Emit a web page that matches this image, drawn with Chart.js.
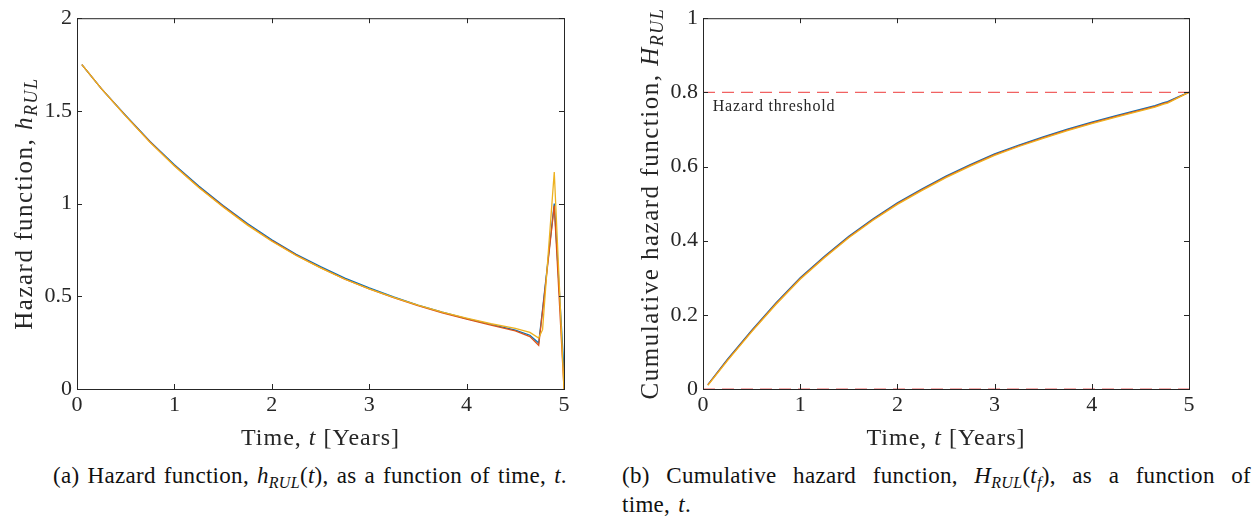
<!DOCTYPE html>
<html lang="en">
<head>
<meta charset="utf-8" />
<title>Hazard function and cumulative hazard function</title>
<script src="https://cdnjs.cloudflare.com/ajax/libs/Chart.js/4.4.0/chart.umd.js"></script>
<style>
    body { margin: 0; background: #fff; width: 1259px; height: 518px; position: relative; overflow: hidden; }
    .panel { position: absolute; top: 0; }
    .cap { position: absolute; font-family: "Liberation Serif", serif; font-size: 23px; color: #111; line-height: 29px; letter-spacing: 0.3px; word-spacing: 2px; white-space: nowrap; }
    .cap i { font-style: italic; }
    .cap sub { font-size: 16px; vertical-align: -5px; line-height: 0; }
</style>
</head>
<body>
<div class="panel" style="left:0"><canvas id="left" width="620" height="450"></canvas></div>
<div class="panel" style="left:620px"><canvas id="right" width="639" height="450"></canvas></div>
<div class="cap" style="left:0; top:461px; width:620px; text-align:center">(a) Hazard function, <i>h</i><sub><i>RUL</i></sub>(<i>t</i>), as a function of time, <i>t</i>.</div>
<div class="cap" style="left:622px; top:461px; width:629px; text-align:justify; text-align-last:justify; white-space:normal">(b) Cumulative hazard function, <i>H</i><sub><i>RUL</i></sub>(<i>t<sub>f</sub></i>), as a function of</div>
<div class="cap" style="left:622px; top:490px">time, <i>t</i>.</div>
<script>
    // time grid [years]
    const time = [0.05, 0.25, 0.5, 0.75, 1, 1.25, 1.5, 1.75, 2, 2.25, 2.5, 2.75, 3, 3.25, 3.5, 3.75, 4, 4.25, 4.5, 4.65, 4.74, 4.78, 4.9, 5];

    // hazard function h_RUL(t), three runs
    const hazardBlue = [1.75, 1.62, 1.475, 1.335, 1.21, 1.095, 0.99, 0.893, 0.805, 0.727, 0.66, 0.598, 0.545, 0.497, 0.453, 0.414, 0.38, 0.348, 0.318, 0.29, 0.248, 0.43, 1.0, 0.1];
    const hazardRed = [1.75, 1.62, 1.473, 1.332, 1.205, 1.09, 0.985, 0.887, 0.8, 0.722, 0.655, 0.593, 0.54, 0.493, 0.45, 0.411, 0.377, 0.345, 0.313, 0.283, 0.236, 0.42, 0.99, 0];
    const hazardYellow = [1.75, 1.62, 1.472, 1.33, 1.203, 1.087, 0.982, 0.884, 0.797, 0.72, 0.653, 0.592, 0.54, 0.494, 0.452, 0.415, 0.382, 0.352, 0.327, 0.305, 0.275, 0.32, 1.17, 0];

    // cumulative hazard H_RUL(t_f), three runs
    const cumBlue = [0.012, 0.08, 0.158, 0.232, 0.3, 0.358, 0.412, 0.459, 0.502, 0.539, 0.574, 0.605, 0.634, 0.658, 0.68, 0.701, 0.72, 0.737, 0.754, 0.764, 0.772, 0.775, 0.789, 0.8];
    const cumRed = [0.011, 0.078, 0.156, 0.23, 0.298, 0.356, 0.41, 0.457, 0.5, 0.537, 0.572, 0.603, 0.632, 0.656, 0.678, 0.699, 0.718, 0.735, 0.752, 0.762, 0.77, 0.773, 0.788, 0.8];
    const cumYellow = [0.01, 0.076, 0.154, 0.228, 0.296, 0.354, 0.408, 0.455, 0.498, 0.535, 0.57, 0.601, 0.63, 0.654, 0.676, 0.697, 0.716, 0.733, 0.75, 0.76, 0.768, 0.771, 0.787, 0.8];

    const hazardThreshold = 0.8;
    const thresholdLabel = 'Hazard threshold';
    const xTicks = [0, 1, 2, 3, 4, 5];
    const leftYTicks = [0, 0.5, 1, 1.5, 2];
    const rightYTicks = [0, 0.2, 0.4, 0.6, 0.8, 1];

    const BLUE = '#0072BD', RED = '#D95319', YELLOW = '#EDB120', AXIS = '#262626';
    const SERIF = '"Liberation Serif", serif';

    const pts = arr => time.map((t, i) => ({ x: t, y: arr[i] }));
    const line = (arr, color) => ({ data: pts(arr), borderColor: color, borderWidth: 1.3, pointRadius: 0, tension: 0, fill: false });

    // draw text pieces (regular / italic / subscript) in a row, centred at 0,0
    function drawRich(ctx, parts, size, spacing) {
        ctx.letterSpacing = spacing + 'px';
        const fonts = parts.map(p => (p.it ? 'italic ' : '') + (p.sub ? Math.round(size * 0.72) : size) + 'px ' + SERIF);
        let total = 0;
        const widths = parts.map((p, i) => { ctx.font = fonts[i]; const w = ctx.measureText(p.t).width; total += w; return w; });
        let x = -total / 2;
        ctx.textBaseline = 'alphabetic';
        ctx.textAlign = 'left';
        parts.forEach((p, i) => {
            ctx.font = fonts[i];
            ctx.fillText(p.t, x, p.sub ? size * 0.2 : 0);
            x += widths[i];
        });
        ctx.letterSpacing = '0px';
    }

    function framePlugin(yTitle, yTitleX) {
        return {
            id: 'frame',
            afterDatasetsDraw(chart) {
                const { ctx, chartArea: a, scales } = chart;
                ctx.save();
                ctx.strokeStyle = AXIS;
                ctx.lineWidth = 1;
                ctx.strokeRect(a.left + 0.5, a.top + 0.5, a.right - a.left, a.bottom - a.top);
                ctx.beginPath();
                scales.x.ticks.forEach(t => {
                    const px = Math.round(scales.x.getPixelForValue(t.value)) + 0.5;
                    ctx.moveTo(px, a.bottom); ctx.lineTo(px, a.bottom - 5);
                    ctx.moveTo(px, a.top); ctx.lineTo(px, a.top + 5);
                });
                scales.y.ticks.forEach(t => {
                    const py = Math.round(scales.y.getPixelForValue(t.value)) + 0.5;
                    ctx.moveTo(a.left, py); ctx.lineTo(a.left + 5, py);
                    ctx.moveTo(a.right, py); ctx.lineTo(a.right - 5, py);
                });
                ctx.stroke();
                ctx.fillStyle = AXIS;
                // x title
                ctx.save();
                ctx.translate((a.left + a.right) / 2, a.bottom + 56);
                drawRich(ctx, [{ t: 'Time, ' }, { t: 't', it: true }, { t: ' [Years]' }], 24, 1);
                ctx.restore();
                // y title
                ctx.save();
                ctx.translate(yTitleX, (a.top + a.bottom) / 2);
                ctx.rotate(-Math.PI / 2);
                drawRich(ctx, yTitle, 25, 1.5);
                ctx.restore();
                ctx.restore();
            }
        };
    }

    const thresholdText = {
        id: 'thresholdText',
        afterDatasetsDraw(chart) {
            const { ctx, scales } = chart;
            ctx.save();
            ctx.fillStyle = AXIS;
            ctx.font = '16px ' + SERIF;
            ctx.letterSpacing = '0.8px';
            ctx.textAlign = 'left';
            ctx.textBaseline = 'alphabetic';
            ctx.fillText(thresholdLabel, scales.x.getPixelForValue(0.1), scales.y.getPixelForValue(hazardThreshold) + 19);
            ctx.restore();
        }
    };

    function scaleOpts(ticksArr, width, isX) {
        return {
            type: 'linear',
            min: ticksArr[0],
            max: ticksArr[ticksArr.length - 1],
            afterBuildTicks: s => { s.ticks = ticksArr.map(v => ({ value: v })); },
            ticks: { color: AXIS, font: { family: SERIF, size: 22 }, padding: isX ? 3 : 5, maxRotation: 0, autoSkip: false, callback: v => String(v) },
            grid: { display: false, drawTicks: false },
            border: { display: false },
            afterFit: s => { if (isX) s.height = 61; else s.width = width; }
        };
    }

    Chart.defaults.animation = false;

    // first dataset is drawn on top, so yellow goes first
    new Chart(document.getElementById('left'), {
        type: 'line',
        data: { datasets: [line(hazardYellow, YELLOW), line(hazardRed, RED), line(hazardBlue, BLUE)] },
        options: {
            responsive: false,
            devicePixelRatio: 1,
            layout: { padding: { top: 16, right: 56, left: 0, bottom: 0 } },
            plugins: { legend: { display: false }, tooltip: { enabled: false } },
            scales: { x: scaleOpts(xTicks, 0, true), y: scaleOpts(leftYTicks, 77, false) }
        },
        plugins: [framePlugin([{ t: 'Hazard function, ' }, { t: 'h', it: true }, { t: 'RUL', it: true, sub: true }], 32)]
    });

    const dashed = (y) => ({ data: [{ x: 0, y: y }, { x: 5, y: y }], borderColor: 'rgba(238,70,70,0.85)', borderWidth: 1.2, borderDash: [12, 7], pointRadius: 0, fill: false, clip: false });

    new Chart(document.getElementById('right'), {
        type: 'line',
        data: { datasets: [dashed(hazardThreshold), dashed(0), line(cumYellow, YELLOW), line(cumRed, RED), line(cumBlue, BLUE)] },
        options: {
            responsive: false,
            devicePixelRatio: 1,
            layout: { padding: { top: 16, right: 70, left: 0, bottom: 0 } },
            plugins: { legend: { display: false }, tooltip: { enabled: false } },
            scales: { x: scaleOpts(xTicks, 0, true), y: scaleOpts(rightYTicks, 83, false) }
        },
        plugins: [framePlugin([{ t: 'Cumulative hazard function, ' }, { t: 'H', it: true }, { t: 'RUL', it: true, sub: true }], 38), thresholdText]
    });
</script>
</body>
</html>
